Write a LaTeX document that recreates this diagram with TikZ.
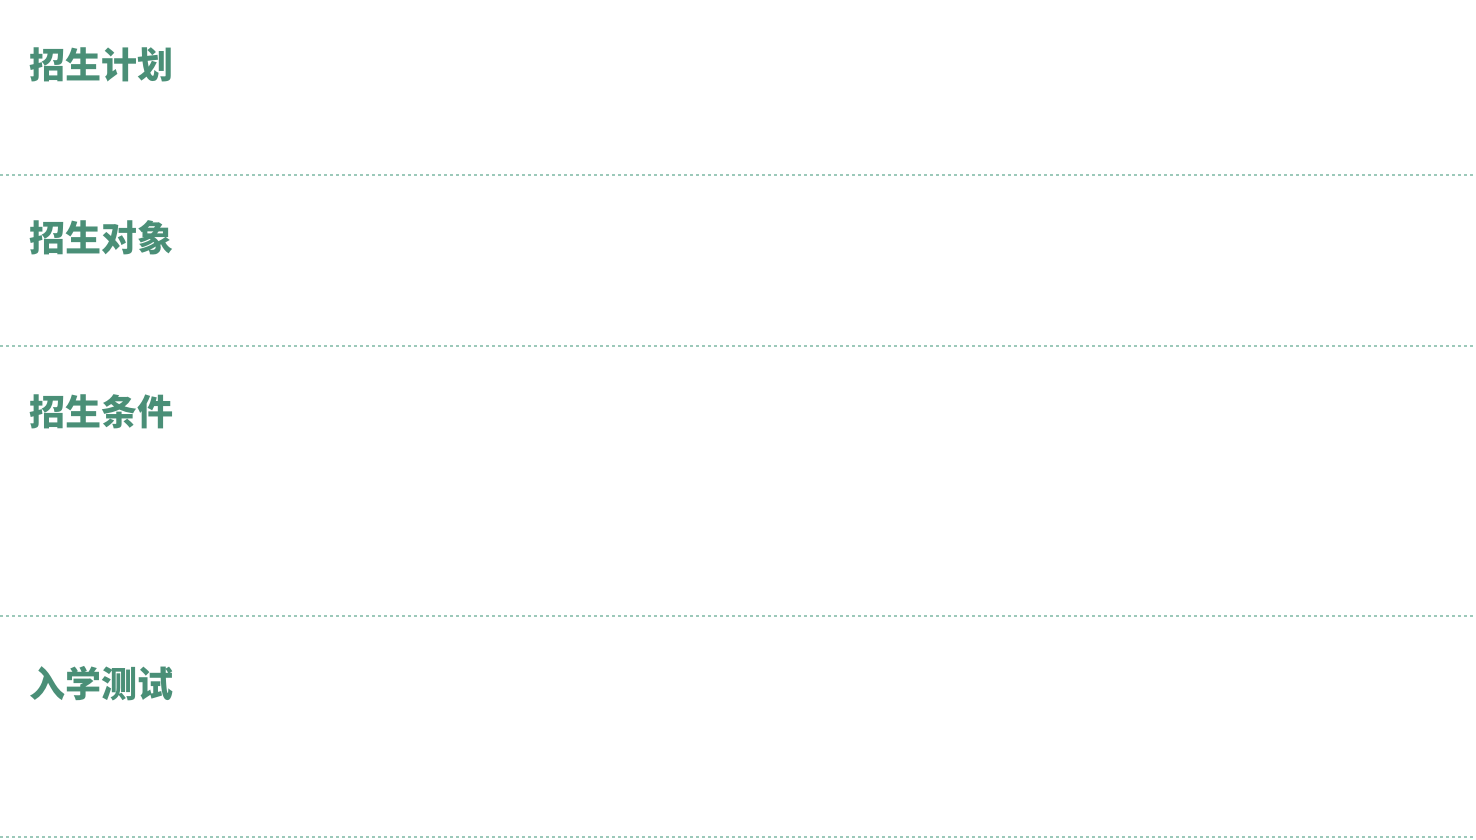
\documentclass[tikz,border=0pt]{standalone}
\usepackage{fontspec}
\newfontfamily\cjk{Noto Sans CJK SC}
\usepackage{tikz}
\usetikzlibrary{positioning}
\definecolor{headgreen}{HTML}{4A8F77}
\definecolor{rulegreen}{HTML}{9CC9BA}
\tikzstyle{heading}=[anchor=west, inner sep=0pt, outer sep=0pt,
                     text=headgreen, font=\cjk\bfseries\fontsize{36}{40}\selectfont]
\tikzstyle{sepline}=[draw=rulegreen, line width=2.2pt,
                     dash pattern=on 3pt off 3pt]

\begin{document}
\begin{tikzpicture}[x=1pt, y=-1pt]
    \useasboundingbox (0,0) rectangle (1476,840);
    \node (plan) [heading] at (30,65) {招生计划};
    \node (target) [heading] at (30,238) {招生对象};
    \node (cond) [heading] at (30,412) {招生条件};
    \node (test) [heading] at (30,684) {入学测试};
    \foreach \y in {175,346,616,837} {
        \draw [sepline] (0,\y) -- (1478,\y);
    }
\end{tikzpicture}
\end{document}
